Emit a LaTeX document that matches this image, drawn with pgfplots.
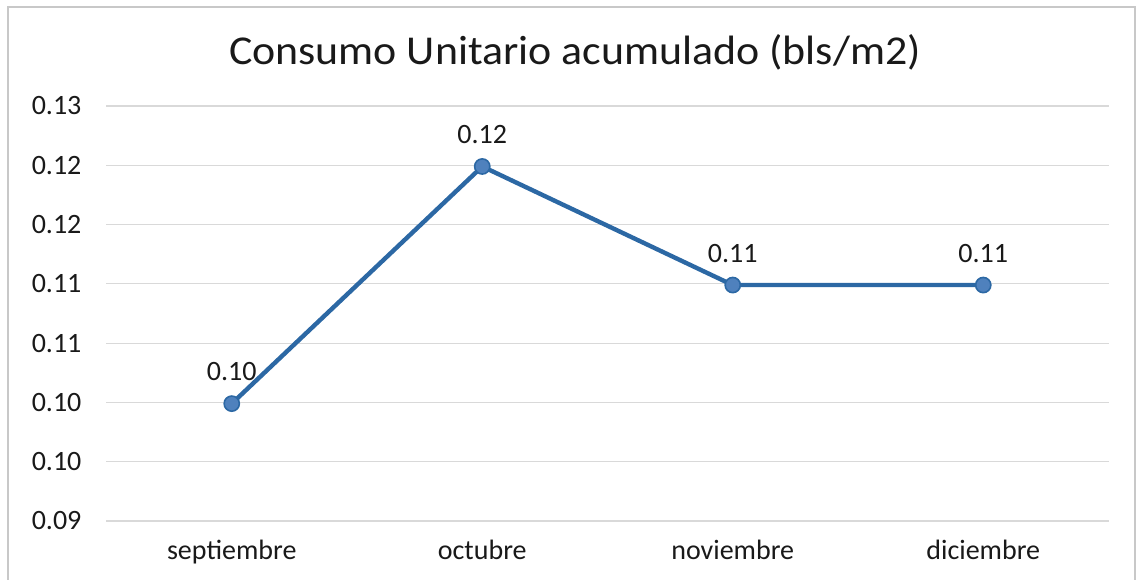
\documentclass[border=0pt]{standalone}
\usepackage{pgfplots}
\pgfplotsset{compat=1.18}
\usepackage{fontspec}
\setmainfont{Carlito}
\definecolor{lineblue}{RGB}{44,104,164}
\definecolor{markfill}{RGB}{79,129,189}
\definecolor{gridgray}{RGB}{217,217,217}
\definecolor{bordergray}{RGB}{200,200,200}
\begin{document}
\begin{tikzpicture}
\useasboundingbox (-53.25pt,-29pt) rectangle (518.25pt,260.5pt);
\begin{scope}
\clip (-53.25pt,-29pt) rectangle (518.25pt,260.5pt);
\draw[bordergray, line width=1pt] (-49.25pt,-40pt) rectangle (514.25pt,257pt);
\end{scope}
\node[font=\fontsize{20.5}{24}\selectfont, text=black!90, xscale=1.07] at (234.25pt,234.5pt) {Consumo Unitario acumulado (bls/m2)};
\begin{axis}[
  at={(0pt,0pt)}, anchor=south west,
  scale only axis, width=501pt, height=207.5pt,
  xmin=-0.5, xmax=3.5, ymin=0.095, ymax=0.13,
  xtick={0,1,2,3},
  xticklabels={septiembre,octubre,noviembre,diciembre},
  ytick={0.095,0.1,0.105,0.11,0.115,0.12,0.125,0.13},
  yticklabels={0.09,0.10,0.10,0.11,0.11,0.12,0.12,0.13},
  axis line style={draw=none},
  major tick length=0pt,
  ymajorgrids, grid style={gridgray, line width=0.6pt},
  tick label style={font=\fontsize{14}{16}\selectfont, text=black!90},
  yticklabel style={xshift=-9pt},
  xticklabel style={yshift=-6pt},
  clip=false,
  nodes near coords,
  point meta=y,
  every node near coord/.append style={font=\fontsize{14}{16}\selectfont, text=black!90, anchor=south, inner sep=0pt, yshift=11pt,
    /pgf/number format/.cd, fixed, fixed zerofill, precision=2, assume math mode=true},
]
\draw[gridgray, line width=0.6pt] (axis cs:-0.5,0.095) -- (axis cs:3.5,0.095);
\addplot[lineblue, line width=2.2pt, mark=*, mark size=3.8pt,
  mark options={fill=markfill, draw=lineblue, line width=0.8pt}]
  coordinates {(0,0.1049) (1,0.1249) (2,0.1149) (3,0.1149)};
\end{axis}
\end{tikzpicture}
\end{document}
